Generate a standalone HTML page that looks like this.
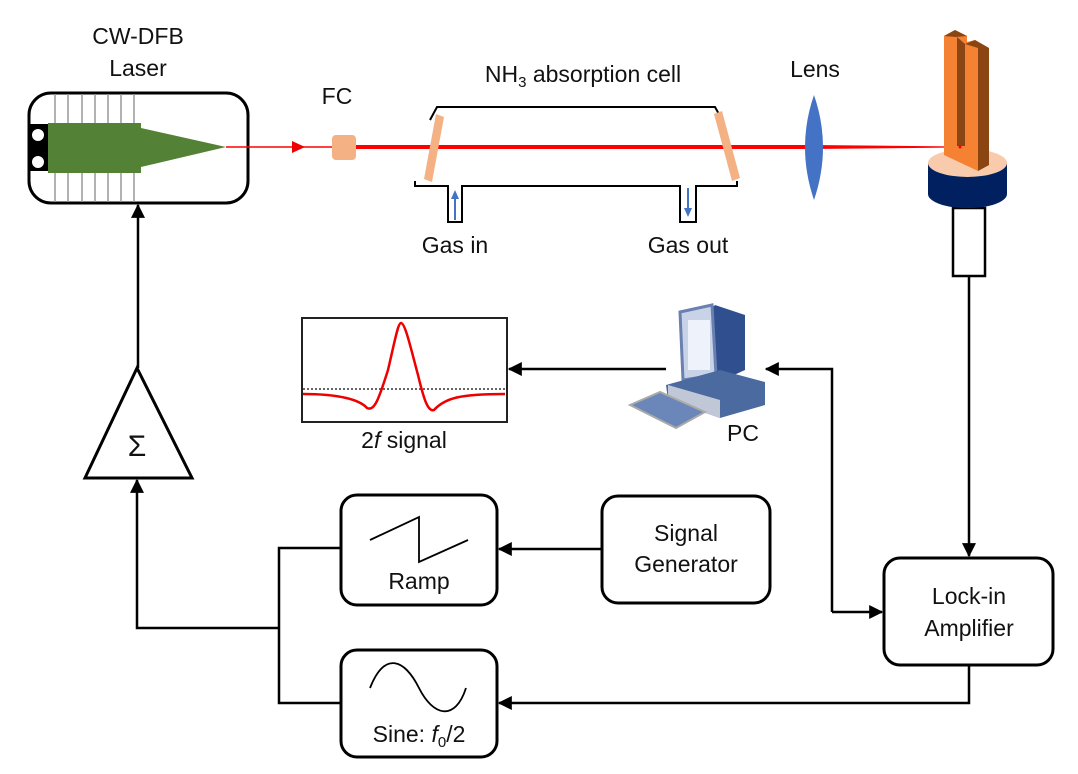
<!DOCTYPE html>
<html><head><meta charset="utf-8"><style>body{margin:0;background:#fff}svg{display:block}text{font-family:"Liberation Sans",sans-serif;fill:#111}</style></head><body>
<svg width="1078" height="774" viewBox="0 0 1078 774" xmlns="http://www.w3.org/2000/svg">
<defs>
<marker id="a2" viewBox="0 0 12 12" markerWidth="14" markerHeight="14" refX="11" refY="6" orient="auto" markerUnits="userSpaceOnUse"><path d="M0,0 L12,6 L0,12 z" fill="#000"/></marker></defs>
<!-- Laser -->
<text x="138" y="44" font-size="23" text-anchor="middle">CW-DFB</text>
<text x="138" y="76" font-size="23" text-anchor="middle">Laser</text>
<rect x="29" y="93" width="219" height="110" rx="22" fill="#fff" stroke="#000" stroke-width="3"/>
<g stroke="#999" stroke-width="1.5"><line x1="55" y1="94" x2="55" y2="202"/><line x1="68" y1="94" x2="68" y2="202"/><line x1="82" y1="94" x2="82" y2="202"/><line x1="95" y1="94" x2="95" y2="202"/><line x1="108" y1="94" x2="108" y2="202"/><line x1="121" y1="94" x2="121" y2="202"/><line x1="134" y1="94" x2="134" y2="202"/></g>
<rect x="29" y="124" width="20" height="47" fill="#000"/>
<circle cx="38" cy="135" r="6" fill="#fff"/><circle cx="38" cy="162" r="6" fill="#fff"/>
<polygon points="48,123 141,123 141,128 226,147 141,167 141,173 48,173" fill="#538135"/>
<line x1="226" y1="147" x2="340" y2="147" stroke="#f00" stroke-width="1.5"/>
<polygon points="292,141 305,147 292,153" fill="#e00"/>
<text x="337" y="104" font-size="23" text-anchor="middle">FC</text>
<rect x="332" y="135" width="24" height="25" rx="4" fill="#f4b183"/>
<line x1="356" y1="147" x2="812" y2="147" stroke="#f00" stroke-width="4"/>
<polygon points="812,145 960,146.5 960,147.5 812,149" fill="#f00"/>
<!-- cell -->
<text x="583" y="82" font-size="23" text-anchor="middle">NH<tspan font-size="15" dy="5">3</tspan><tspan dy="-5"> absorption cell</tspan></text>
<polyline points="430,120 437,107 715,107 720,116" fill="none" stroke="#000" stroke-width="2"/>
<polyline points="415,181 415,186 448,186 448,222 462,222 462,186 680,186 680,222 696,222 696,186 737,186 737,181" fill="none" stroke="#000" stroke-width="2"/>
<polygon points="436,114 444,117 432,182 424,179" fill="#f4b183"/>
<polygon points="714,114 722,111 740,178 732,181" fill="#f4b183"/>
<line x1="455" y1="220" x2="455" y2="197" stroke="#4472c4" stroke-width="2"/><polygon points="451,199 455,190 459,199" fill="#4472c4"/>
<line x1="688" y1="188" x2="688" y2="210" stroke="#4472c4" stroke-width="2"/><polygon points="684,208 688,217 692,208" fill="#4472c4"/>
<text x="455" y="253" font-size="23" text-anchor="middle">Gas in</text>
<text x="688" y="253" font-size="23" text-anchor="middle">Gas out</text>
<text x="815" y="77" font-size="23" text-anchor="middle">Lens</text>
<path d="M814,95 Q832,147 814,200 Q796,147 814,95 z" fill="#4472c4"/>
<!-- QTF -->
<rect x="953" y="208" width="32" height="68" fill="#fff" stroke="#000" stroke-width="2.5"/>
<path d="M928,163 L928,194 A39,14 0 0 0 1007,194 L1007,163 z" fill="#002060"/>
<ellipse cx="967.5" cy="163" rx="39.5" ry="14" fill="#f8cbad"/>
<polygon points="944,36 955,30 967,36 967,42 975,40 989,48 989,165 978,171 944,155" fill="#f58233"/>
<polygon points="944,36 955,30 967,36 956,37" fill="#8b4513"/>
<polygon points="965,44 975,40 989,48 978,48" fill="#8b4513"/>
<polygon points="978,48 989,48 989,165 978,171" fill="#8b4513"/>
<polygon points="957,37 965,44 965,146 957,146" fill="#8b4513"/>
<circle cx="960" cy="147" r="1.5" fill="#f00"/>
<line x1="969" y1="276" x2="969" y2="556" stroke="#000" stroke-width="2.5" marker-end="url(#a2)"/>
<!-- 2f -->
<rect x="302" y="318" width="205" height="104" fill="#fff" stroke="#222" stroke-width="2"/>
<line x1="303" y1="389" x2="506" y2="389" stroke="#333" stroke-width="1.5" stroke-dasharray="2,2"/>
<path d="M303,394 C340,394 360,400 367,408 C375,412 380,395 388,370 C395,340 398,323 401,323 C405,323 410,345 418,375 C424,400 428,412 434,410 C445,398 460,394 505,394" fill="none" stroke="#e00" stroke-width="2.5"/>
<text x="404" y="448" font-size="23" text-anchor="middle">2<tspan font-style="italic">f</tspan> signal</text>
<!-- PC -->
<g>
<polygon points="700,320 715,305 745,315 745,370 712,385 700,375" fill="#2f4f8f"/>
<polygon points="680,312 712,305 716,375 683,380" fill="#c8d3e8" stroke="#6a80b0" stroke-width="3"/>
<rect x="688" y="320" width="22" height="50" fill="#eef2fa"/>
<polygon points="666,385 720,370 765,382 765,405 720,418 668,400" fill="#4a6aa0"/>
<polygon points="668,385 668,400 720,418 720,400" fill="#c0c8d8"/>
<polygon points="630,405 660,392 705,412 676,428" fill="#6b86b8" stroke="#aaa" stroke-width="2"/>
</g>
<text x="743" y="441" font-size="23" text-anchor="middle">PC</text>
<line x1="666" y1="369" x2="509" y2="369" stroke="#000" stroke-width="2.5" marker-end="url(#a2)"/>
<polyline points="832,612 832,369 766,369" fill="none" stroke="#000" stroke-width="2.5" marker-end="url(#a2)"/>
<polyline points="832,612 882,612" fill="none" stroke="#000" stroke-width="2.5" marker-end="url(#a2)"/>
<!-- Sum -->
<polygon points="137,368 192,478 85,478" fill="#fff" stroke="#000" stroke-width="3"/>
<text x="137" y="456" font-size="30" text-anchor="middle">Σ</text>
<line x1="138" y1="368" x2="138" y2="205" stroke="#000" stroke-width="2.5" marker-end="url(#a2)"/>
<polyline points="279,628 137,628 137,480" fill="none" stroke="#000" stroke-width="2.5" marker-end="url(#a2)"/>
<polyline points="340,548 279,548 279,703 340,703" fill="none" stroke="#000" stroke-width="2.5"/>
<!-- Ramp -->
<rect x="341" y="495" width="156" height="110" rx="16" fill="#fff" stroke="#000" stroke-width="3"/>
<polyline points="370,540 419,517 419,562 468,540" fill="none" stroke="#000" stroke-width="1.8"/>
<text x="419" y="589" font-size="23" text-anchor="middle">Ramp</text>
<!-- Sine -->
<rect x="341" y="650" width="156" height="107" rx="16" fill="#fff" stroke="#000" stroke-width="3"/>
<path d="M370,688 C385,650 405,660 419,688 C433,716 455,722 466,688" fill="none" stroke="#000" stroke-width="1.8"/>
<text x="419" y="742" font-size="23" text-anchor="middle">Sine: <tspan font-style="italic">f</tspan><tspan font-size="15" dy="5">0</tspan><tspan dy="-5">/2</tspan></text>
<!-- Signal gen -->
<rect x="602" y="496" width="168" height="107" rx="16" fill="#fff" stroke="#000" stroke-width="3"/>
<text x="686" y="541" font-size="23" text-anchor="middle">Signal</text>
<text x="686" y="572" font-size="23" text-anchor="middle">Generator</text>
<line x1="601" y1="549" x2="499" y2="549" stroke="#000" stroke-width="2.5" marker-end="url(#a2)"/>
<!-- Lock-in -->
<rect x="884" y="558" width="169" height="107" rx="16" fill="#fff" stroke="#000" stroke-width="3"/>
<text x="969" y="604" font-size="23" text-anchor="middle">Lock-in</text>
<text x="969" y="636" font-size="23" text-anchor="middle">Amplifier</text>
<polyline points="969,665 969,703 499,703" fill="none" stroke="#000" stroke-width="2.5" marker-end="url(#a2)"/>
</svg>
</body></html>
